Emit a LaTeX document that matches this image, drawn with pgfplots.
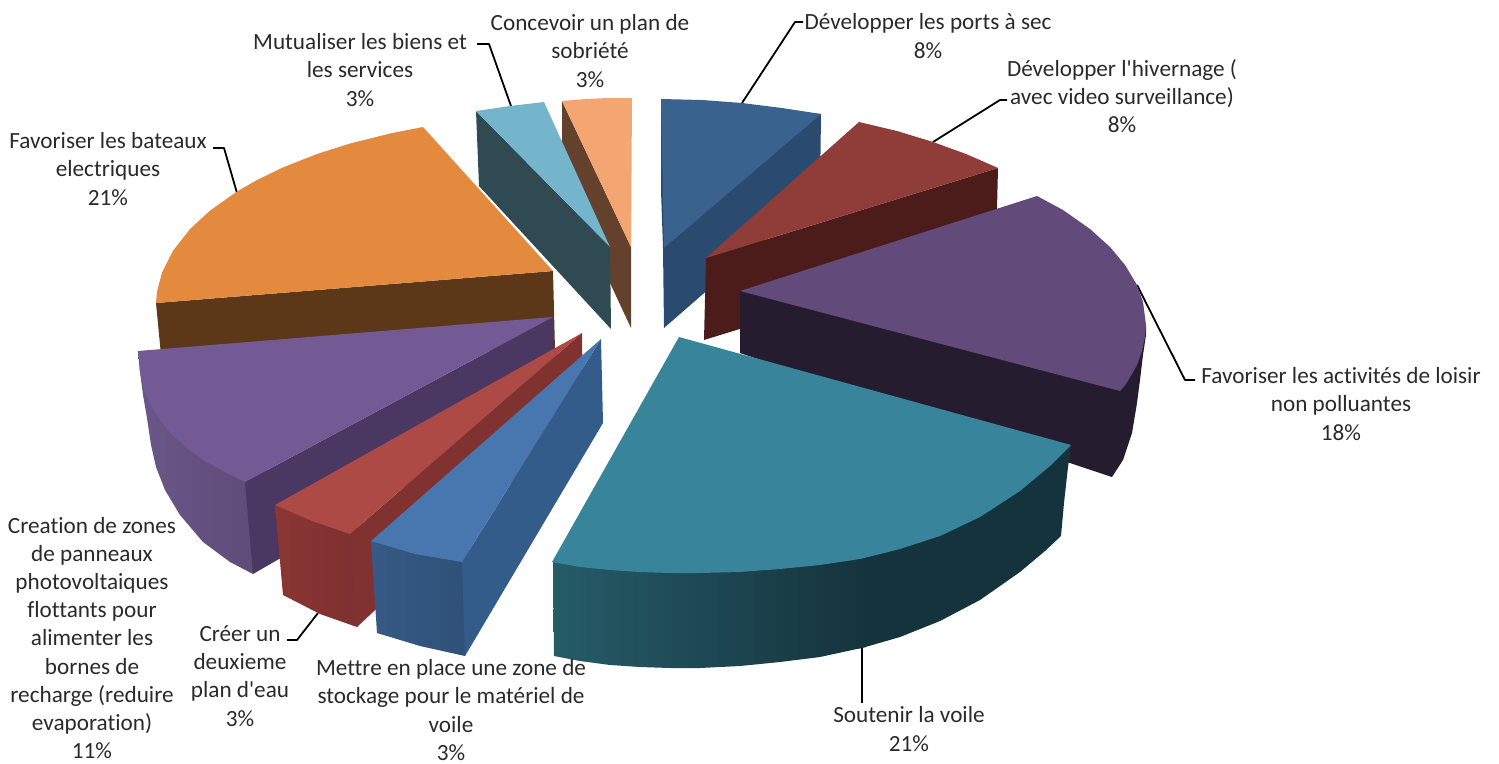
\documentclass[border=0pt]{standalone}
\usepackage{fontspec}
\newfontfamily\chartfont[Ligatures=CommonOff]{Carlito}
\usepackage{pgfplots}
\pgfplotsset{compat=1.18}
\definecolor{lab}{HTML}{2A2A2A}
\definecolor{peach}{HTML}{F4A672}
\definecolor{peachS}{HTML}{63412C}
\definecolor{navy}{HTML}{3A628F}
\definecolor{navyS}{HTML}{2A4A70}
\definecolor{wine}{HTML}{903C39}
\definecolor{wineS}{HTML}{4C1C1B}
\definecolor{plum}{HTML}{624B7B}
\definecolor{plumS}{HTML}{261C30}
\definecolor{teal1}{HTML}{38849B}
\definecolor{tealA}{HTML}{255C68}
\definecolor{tealB}{HTML}{15333D}
\definecolor{orng}{HTML}{E38A3F}
\definecolor{orngS}{HTML}{5C3818}
\definecolor{viol}{HTML}{745A94}
\definecolor{violS}{HTML}{4A3862}
\definecolor{violA}{HTML}{6B5689}
\definecolor{violB}{HTML}{5C4A76}
\definecolor{red1}{HTML}{AE4A45}
\definecolor{redS}{HTML}{7F3230}
\definecolor{redA}{HTML}{8A3633}
\definecolor{redB}{HTML}{7C3030}
\definecolor{blue1}{HTML}{4877B0}
\definecolor{blueS}{HTML}{335C8A}
\definecolor{blueA}{HTML}{365A85}
\definecolor{blueB}{HTML}{2E5078}
\definecolor{sky}{HTML}{75B5CC}
\definecolor{skyS}{HTML}{2F4A52}
\pgfplotsset{lead/.style={black,line width=1.8pt,line join=round}}
\tikzset{lbl/.style={align=center,text=lab,inner sep=0pt,font=\chartfont\fontsize{23.2}{28.2}\selectfont}}
\begin{document}
\begin{tikzpicture}
\begin{axis}[
    hide axis, scale only axis,
    width=1499pt, height=763pt,
    xmin=0, xmax=1499, ymin=0, ymax=763,
    y dir=reverse, clip=false,
]
\path (axis cs:0,0) (axis cs:1499,763);
% leader lines
\addplot[lead] coordinates {(477,44)(489,44)(511,106)};
\addplot[lead] coordinates {(803,22)(795,22)(742,103)};
\addplot[lead] coordinates {(1007,100)(1000,100)(933,142)};
\addplot[lead] coordinates {(1195,380)(1185,380)(1137,285)};
\addplot[lead] coordinates {(862,647)(862,703)};
\addplot[lead] coordinates {(287,640)(297,640)(318,613)};
\addplot[lead] coordinates {(213,148)(224,148)(237,193)};

% Concevoir un plan de sobriete
\addplot[fill=peachS, draw=none] coordinates {(562,101)(631,247)(631,328)(562,180)} --cycle;
\addplot[fill=peach, draw=none] coordinates {(562,101)(585,99)(608,98)(632,98)(631,247)} --cycle;
% Developper les ports a sec
\addplot[fill=navyS, draw=none] coordinates {(821,114)(820,192)(664,328)(663,248)(661,190)(661,99)} --cycle;
\addplot[fill=navy, draw=none] coordinates {(661,99)(702,100)(742,103)(782,108)(821,114)(664,248)} --cycle;
% Developper l'hivernage
\addplot[fill=wineS, draw=none] coordinates {(706,258)(998,168)(996,250)(704,340)} --cycle;
\addplot[fill=wine, draw=none] coordinates {(859,122)(897,131)(933,142)(966,154)(998,168)(706,258)} --cycle;
% Favoriser les activites de loisir
\addplot[fill=plumS, draw=none] coordinates {(740,291)(1146,325)(1146,335)(1143,355)(1140,380)(1137,403)(1132,433)(1123,460)(1112,477)(740,353)} --cycle;
\addplot[fill=plum, draw=none] coordinates {(1037,196)(1063,210)(1090,229)(1110,247)(1125,265)(1137,285)(1143,302)(1146,325)(1145,337)(1142,351)(1137,365)(1132,374)(1126,384)(1120,391)(740,291)} --cycle;
% Soutenir la voile
\addplot[fill=tealB, draw=none] coordinates {(855,500)(1071,445)(1068,467)(1064,503)(1061,536)(1045,551)(1020,572)(980,600)(940,621)(900,637)(862,648)(855,649)} --cycle;
\addplot[left color=tealA, right color=tealB, draw=none] coordinates {(553,562)(600,550)(866,540)(866,647)(820,657)(780,662)(740,666)(700,668)(670,668)(640,667)(610,665)(580,661)(554,656)} --cycle;
\addplot[fill=teal1, draw=none] coordinates {(679,337)(1071,445)(1050,466)(1020,491)(980,517)(940,536)(900,549)(860,559)(820,565)(780,569)(740,572)(700,573)(670,573)(640,572)(610,570)(580,567)(552,562)} --cycle;
% Favoriser les bateaux electriques
\addplot[fill=orngS, draw=none] coordinates {(156,303)(553,271)(555,350)(161,355)} --cycle;
\addplot[fill=orng, draw=none] coordinates {(553,271)(423,127)(390,133.5)(350,143.5)(317,154)(283,167.4)(257,180)(237,191.5)(210,210.6)(190,229.1)(173,250.8)(162,272.6)(157,291.7)(156,303)} --cycle;
% Creation de zones de panneaux
\addplot[left color=violA, right color=violB, draw=none] coordinates {(138,351)(270,440)(262,560)(253,574)(230,562)(203,542)(180,515)(165,490)(156,467)(151,445)(147,418)(143,395)(140,372)} --cycle;
\addplot[fill=violS, draw=none] coordinates {(245,482)(553,317)(555,400)(253,574)} --cycle;
\addplot[fill=viol, draw=none] coordinates {(553,317)(138,351)(140,372)(144,391)(151,406)(160,420)(172,435)(188,449)(205,461)(225,472)(245,482)} --cycle;
% Creer un deuxieme plan d'eau
\addplot[left color=redA, right color=redB, draw=none] coordinates {(275,505)(312,519)(358,520)(362,610)(357,627)(320,614)(283,595)} --cycle;
\addplot[fill=redS, draw=none] coordinates {(350,534)(582,333)(583,416)(357,627)} --cycle;
\addplot[fill=red1, draw=none] coordinates {(582,333)(275,505)(312,521)(350,534)} --cycle;
% Mettre en place une zone de stockage
\addplot[left color=blueA, right color=blueB, draw=none] coordinates {(371,541)(415,554)(470,550)(470,640)(465,656)(420,646)(377,633)} --cycle;
\addplot[fill=blueS, draw=none] coordinates {(462,562)(601,339)(603,423)(465,656)} --cycle;
\addplot[fill=blue1, draw=none] coordinates {(601,339)(371,541)(415,554)(462,562)} --cycle;
% Mutualiser les biens et les services
\addplot[fill=skyS, draw=none] coordinates {(476,111)(610,247)(611,329)(479,186)} --cycle;
\addplot[fill=sky, draw=none] coordinates {(476,111)(510,106)(544,102)(610,247)} --cycle;

% labels
\node[lbl] at (axis cs:590,51) {Concevoir un plan de\\sobriété\\3\%};
\node[lbl] at (axis cs:928,36) {Développer les ports à sec\\8\%};
\node[lbl] at (axis cs:1122,96) {Développer l'hivernage (\\avec video surveillance)\\8\%};
\node[lbl] at (axis cs:1341,404) {Favoriser les activités de loisir\\non polluantes\\18\%};
\node[lbl] at (axis cs:909,729) {Soutenir la voile\\21\%};
\node[lbl] at (axis cs:451,710) {Mettre en place une zone de\\stockage pour le matériel de\\voile\\3\%};
\node[lbl] at (axis cs:240,676) {Créer un\\deuxieme\\plan d'eau\\3\%};
\node[lbl] at (axis cs:92,638) {Creation de zones\\de panneaux\\photovoltaiques\\flottants pour\\alimenter les\\bornes de\\recharge (reduire\\evaporation)\\11\%};
\node[lbl] at (axis cs:108,169) {Favoriser les bateaux\\electriques\\21\%};
\node[lbl] at (axis cs:360,70) {Mutualiser les biens et\\les services\\3\%};
\end{axis}
\end{tikzpicture}
\end{document}
